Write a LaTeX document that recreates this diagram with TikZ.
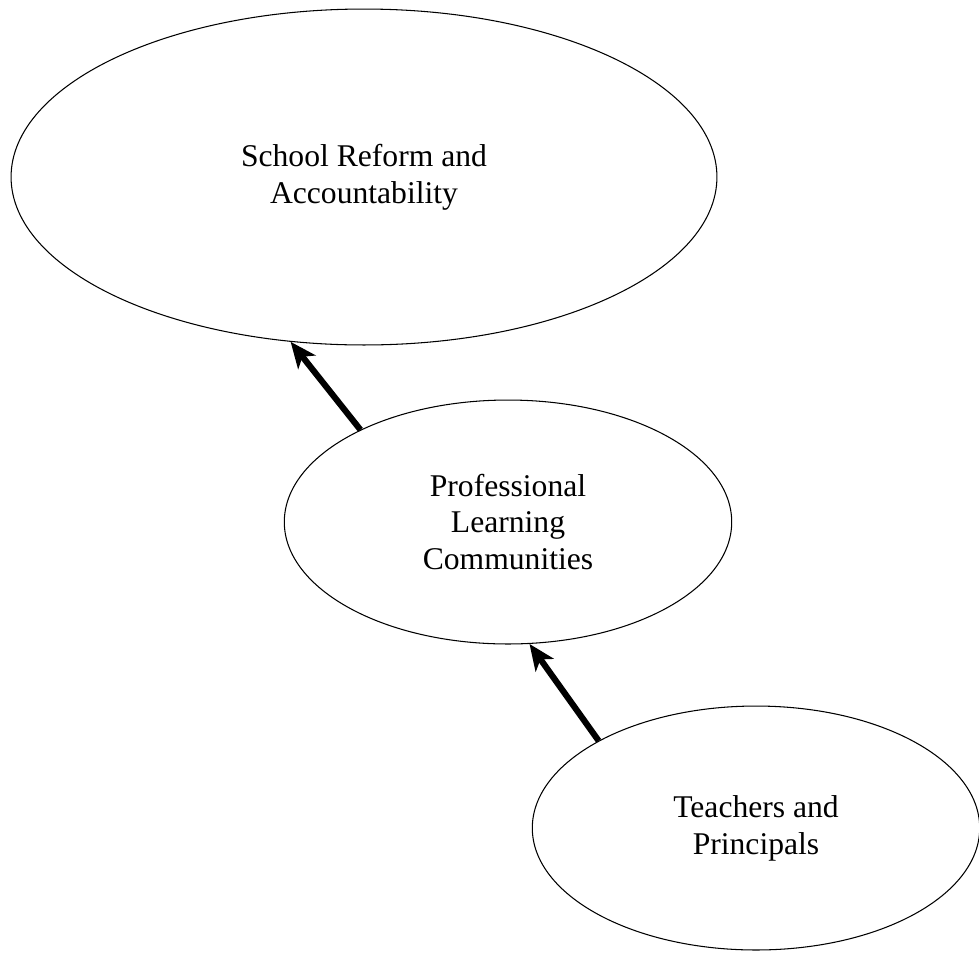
\documentclass[tikz,border=0pt]{standalone}
\usepackage{fontspec}
\setmainfont{Liberation Serif}
\usetikzlibrary{arrows.meta,shapes,positioning}

\begin{document}
\begin{tikzpicture}[x=0.02cm, y=-0.02cm,
			topicStyle/.style={draw, line width=0.6pt, ellipse, align=center, inner sep=0pt, font=\fontsize{18}{21}\selectfont},
			reform/.style={topicStyle, minimum width=14.12cm, minimum height=6.72cm},
			topic/.style={topicStyle, minimum width=8.95cm, minimum height=4.88cm},
			arrowStyle/.style={-{Stealth[length=5.2mm, width=4.4mm, inset=1.4mm]}, line width=3.5pt}]
			
			\useasboundingbox (0,0) rectangle (979,954);
			
			\node[reform] (sra) at (364,177) {School Reform and\\Accountability};
			
			\begin{scope}[every node/.style={topic}]
				\node (plc) at (508,522) {Professional\\Learning\\Communities};
				\node (tp) at (756,828) {Teachers and\\Principals};
			\end{scope}
			
			\draw[arrowStyle] (plc.148) -- (sra.246);
			\draw[arrowStyle] (tp.151) -- (plc.280);
		\end{tikzpicture}
\end{document}
